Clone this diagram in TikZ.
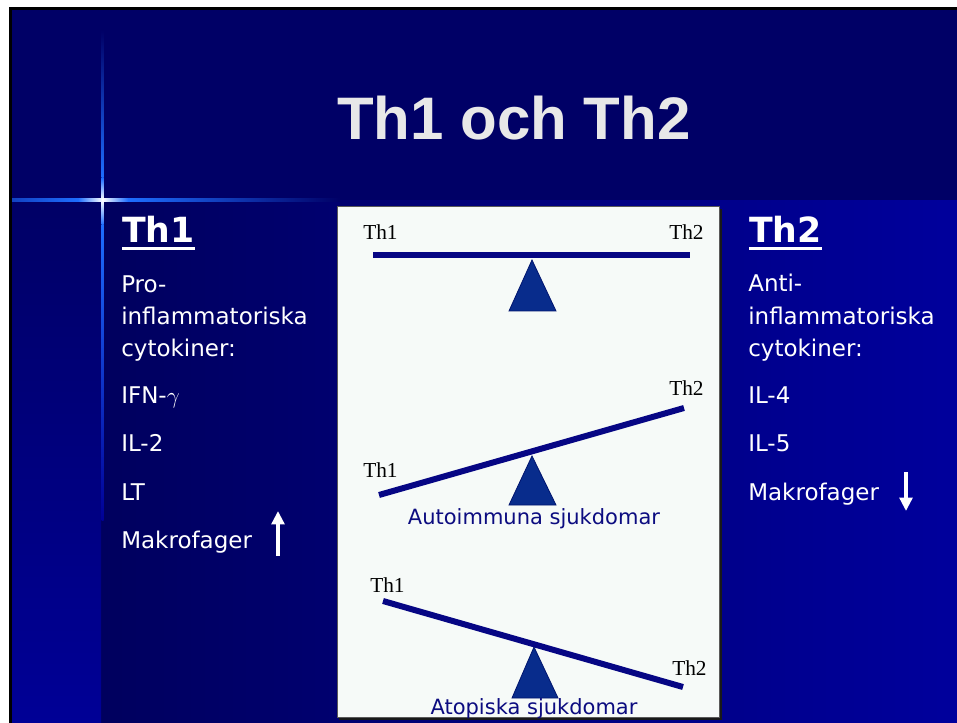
\documentclass[tikz,border=0pt]{standalone}
\usepackage{fontspec}
\setmainfont{DejaVu Sans}
\newfontfamily\titlefont{Liberation Sans}
\newfontfamily\seesawfont{Liberation Serif}
\usetikzlibrary{arrows.meta}

\definecolor{slidetop}{RGB}{0,0,102}
\definecolor{slidedark}{RGB}{0,0,94}
\definecolor{slidebright}{RGB}{0,0,156}
\definecolor{stripblue}{RGB}{0,0,150}
\definecolor{glowblue}{RGB}{30,110,255}
\definecolor{titlegrey}{RGB}{232,232,232}
\definecolor{panelbg}{RGB}{246,250,248}
\definecolor{beamblue}{RGB}{6,6,132}
\definecolor{pivotblue}{RGB}{8,44,140}
\definecolor{pivotedge}{RGB}{0,20,110}
\definecolor{capblue}{RGB}{12,12,128}

\begin{document}
\begin{tikzpicture}[x=0.75pt,y=-0.75pt,
  bodytext/.style={anchor=base west,inner sep=0pt,text=white,font=\fontsize{17.25}{20}\selectfont},
  headtext/.style={anchor=base west,inner sep=0pt,text=white,font=\fontsize{26}{30}\selectfont\bfseries},
  seesawlabel/.style={anchor=base west,inner sep=0pt,text=black,font=\seesawfont\fontsize{16}{18}\selectfont},
  caption/.style={anchor=base,inner sep=0pt,text=capblue,font=\fontsize{15.75}{18}\selectfont},
  beam/.style={line width=4.5pt,color=beamblue},
  pivot/.style={fill=pivotblue,draw=pivotedge,line width=0.6pt},
  updown/.style={white,line width=2.6pt,-{Triangle[width=9.5pt,length=10pt]}}]
\useasboundingbox (0,0) rectangle (957,723);
%% slide background
\fill[white] (0,0) rectangle (957,723);
\fill[black] (9,7) rectangle (957,723);
\fill[slidetop] (12,10) rectangle (957,201);
\shade[left color=slidedark,right color=slidebright] (101,201) rectangle (957,723);
\shade[top color=slidetop,bottom color=stripblue] (12,201) rectangle (101,723);
%% glow cross
\shade[top color=slidetop,bottom color=glowblue] (101.5,30) rectangle (103.5,178);
\shade[top color=glowblue,bottom color=white] (101.5,178) rectangle (103.5,200);
\shade[top color=white,bottom color=glowblue] (101.5,200) rectangle (103.5,225);
\shade[top color=glowblue,bottom color=stripblue] (101.5,225) rectangle (103.5,520);
\shade[left color=glowblue!60!slidetop,right color=glowblue] (12,199) rectangle (78,201.5);
\shade[left color=glowblue,right color=white] (78,199) rectangle (102.5,201.5);
\shade[left color=white,right color=glowblue] (102.5,199) rectangle (128,201.5);
\shade[left color=glowblue,right color=slidetop] (128,199) rectangle (340,201.5);

%% title
\node[anchor=base,inner sep=0pt,text=titlegrey,font=\titlefont\bfseries\fontsize{45}{50}\selectfont] (title) at (514,140) {Th1 och Th2};

%% left column
\node[headtext] (h1) at (122,243) {Th1};
\draw[white,line width=2.4pt] ([yshift=-4.2pt]h1.base west) -- ([yshift=-4.2pt]h1.base east);
\node[bodytext] (pro1) at (121,293) {Pro-};
\node[bodytext] (pro2) at (121,325) {inflammatoriska};
\node[bodytext] (pro3) at (121,357) {cytokiner:};
\node[bodytext] (ifn) at (121,404) {IFN-$\gamma$};
\node[bodytext] (il2) at (121,452) {IL-2};
\node[bodytext] (lt) at (121,500) {LT};
\node[bodytext] (mak1) at (121,548) {Makrofager};
\coordinate (up0) at (278,556);
\coordinate (up1) at (278,511);
\draw[updown] (up0) -- (up1);

%% right column
\node[headtext] (h2) at (749,243) {Th2};
\draw[white,line width=2.4pt] ([yshift=-4.2pt]h2.base west) -- ([yshift=-4.2pt]h2.base east);
\node[bodytext] (anti1) at (748,292) {Anti-};
\node[bodytext] (anti2) at (748,325) {inflammatoriska};
\node[bodytext] (anti3) at (748,357) {cytokiner:};
\node[bodytext] (il4) at (748,404) {IL-4};
\node[bodytext] (il5) at (748,452) {IL-5};
\node[bodytext] (mak2) at (748,500) {Makrofager};
\coordinate (down0) at (906,472);
\coordinate (down1) at (906,511);
\draw[updown] (down0) -- (down1);

%% seesaw panel
\fill[black!90] (339,209) rectangle (722,720);
\filldraw[fill=panelbg,draw=black!65,line width=0.75pt] (337,207) rectangle (719,717);

% balanced
\filldraw[pivot] (532,260) -- (556,311) -- (509,311) -- cycle;
\draw[beam] (373,255) -- (690,255);
\node[seesawlabel] (a1) at (363,240) {Th1};
\node[seesawlabel] (a2) at (669,240) {Th2};

% Th2 up
\filldraw[pivot] (532,456) -- (556,505) -- (509,505) -- cycle;
\draw[beam] (379,495) -- (684,408);
\node[seesawlabel] (b1) at (363,478) {Th1};
\node[seesawlabel] (b2) at (669,396) {Th2};
\node[caption] (auto) at (534,524) {Autoimmuna sjukdomar};

% Th1 up
\filldraw[pivot] (534,647) -- (558,698) -- (512,698) -- cycle;
\draw[beam] (383,601) -- (683,687);
\node[seesawlabel] (c1) at (370,592) {Th1};
\node[seesawlabel] (c2) at (672,675) {Th2};
\node[caption] (atop) at (534,714) {Atopiska sjukdomar};
\end{tikzpicture}
\end{document}
